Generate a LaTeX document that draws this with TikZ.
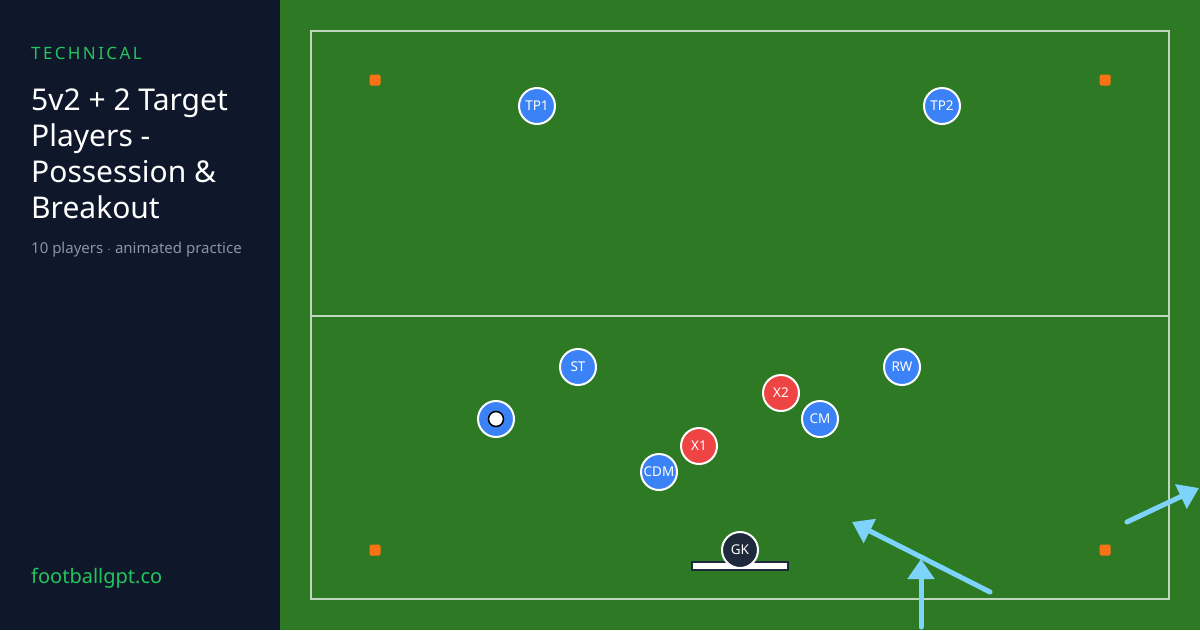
\documentclass[tikz,border=0pt]{standalone}
\usepackage{fontspec}
\setmainfont{Noto Sans}
\newfontfamily\spacedfont[LetterSpace=14]{Noto Sans}
\usetikzlibrary{arrows.meta}
\definecolor{panel}{HTML}{0F172A}
\definecolor{grass}{HTML}{2E7A24}
\definecolor{accent}{HTML}{22C55E}
\definecolor{muted}{HTML}{8A94A6}
\definecolor{home}{HTML}{3B82F6}
\definecolor{away}{HTML}{EF4444}
\definecolor{keeper}{HTML}{1E293B}
\definecolor{cone}{HTML}{F97316}
\definecolor{run}{HTML}{7DD3FC}
\tikzstyle{every node}=[inner sep=0pt]
\tikzstyle{player}=[circle,draw=white,line width=2pt,minimum size=36pt,text=white,font=\fontsize{13.5}{13.5}\selectfont]
\tikzstyle{blue}=[player,fill=home]
\tikzstyle{red}=[player,fill=away]
\tikzstyle{gk}=[player,fill=keeper]
\tikzstyle{marker}=[rectangle,rounded corners=1.5pt,fill=cone,minimum size=11pt]
\tikzstyle{runline}=[draw=run,line width=5pt,line cap=round,-{Triangle[length=20pt,width=26pt]}]

\begin{document}
\begin{tikzpicture}[x=1pt,y=-1pt]
    \useasboundingbox (0,0) rectangle (1200,630);
    \fill[grass] (0,0) rectangle (1200,630);
    \fill[panel] (0,0) rectangle (280,630);
    % side panel
    \node[anchor=west,text=accent,font=\spacedfont\fontsize{17}{17}\selectfont] (tag) at (31,53) {TECHNICAL};
    \node[anchor=north west,text=white,align=left,font=\fontsize{30}{36}\selectfont] (title) at (31,89)
        {5v2 + 2 Target\\Players -\\Possession \&\\Breakout};
    \node[anchor=west,text=muted,font=\fontsize{15}{15}\selectfont] (sub) at (31,250) {10 players $\cdot$ animated practice};
    \node[anchor=west,text=accent,font=\fontsize{20}{20}\selectfont] (site) at (31,578) {footballgpt.co};
    % pitch
    \draw[white!70!grass,line width=1.5pt] (311,31) rectangle (1169,599);
    \draw[white!70!grass,line width=1.5pt] (311,316) -- (1169,316);
    \node[marker] (c1) at (375,80) {};
    \node[marker] (c2) at (1105,80) {};
    \node[marker] (c3) at (375,550) {};
    \node[marker] (c4) at (1105,550) {};
    \draw[keeper,fill=white,line width=2pt] (692,562) rectangle (788,570);
    % players
    \node[blue] (tp1) at (537,106) {TP1};
    \node[blue] (tp2) at (942,106) {TP2};
    \node[blue] (st) at (578,367) {ST};
    \node[blue] (lw) at (496,419) {};
    \node[circle,fill=white,draw=black,line width=1.5pt,minimum size=15pt] (ball) at (lw) {};
    \node[blue] (rw) at (902,367) {RW};
    \node[red] (x2) at (781,393) {X2};
    \node[blue] (cm) at (820,419) {CM};
    \node[red] (x1) at (699,446) {X1};
    \node[blue] (cdm) at (659,472) {CDM};
    \node[gk] (gk) at (740,550) {GK};
    % runs
    \coordinate (r1a) at (990,592);
    \coordinate (r1b) at (852,522);
    \coordinate (r2a) at (921,627);
    \coordinate (r2b) at (921,559);
    \coordinate (r3a) at (1127,522);
    \coordinate (r3b) at (1199,488);
    \draw[runline] (r1a) -- (r1b);
    \draw[runline] (r2a) -- (r2b);
    \draw[runline] (r3a) -- (r3b);
\end{tikzpicture}
\end{document}
